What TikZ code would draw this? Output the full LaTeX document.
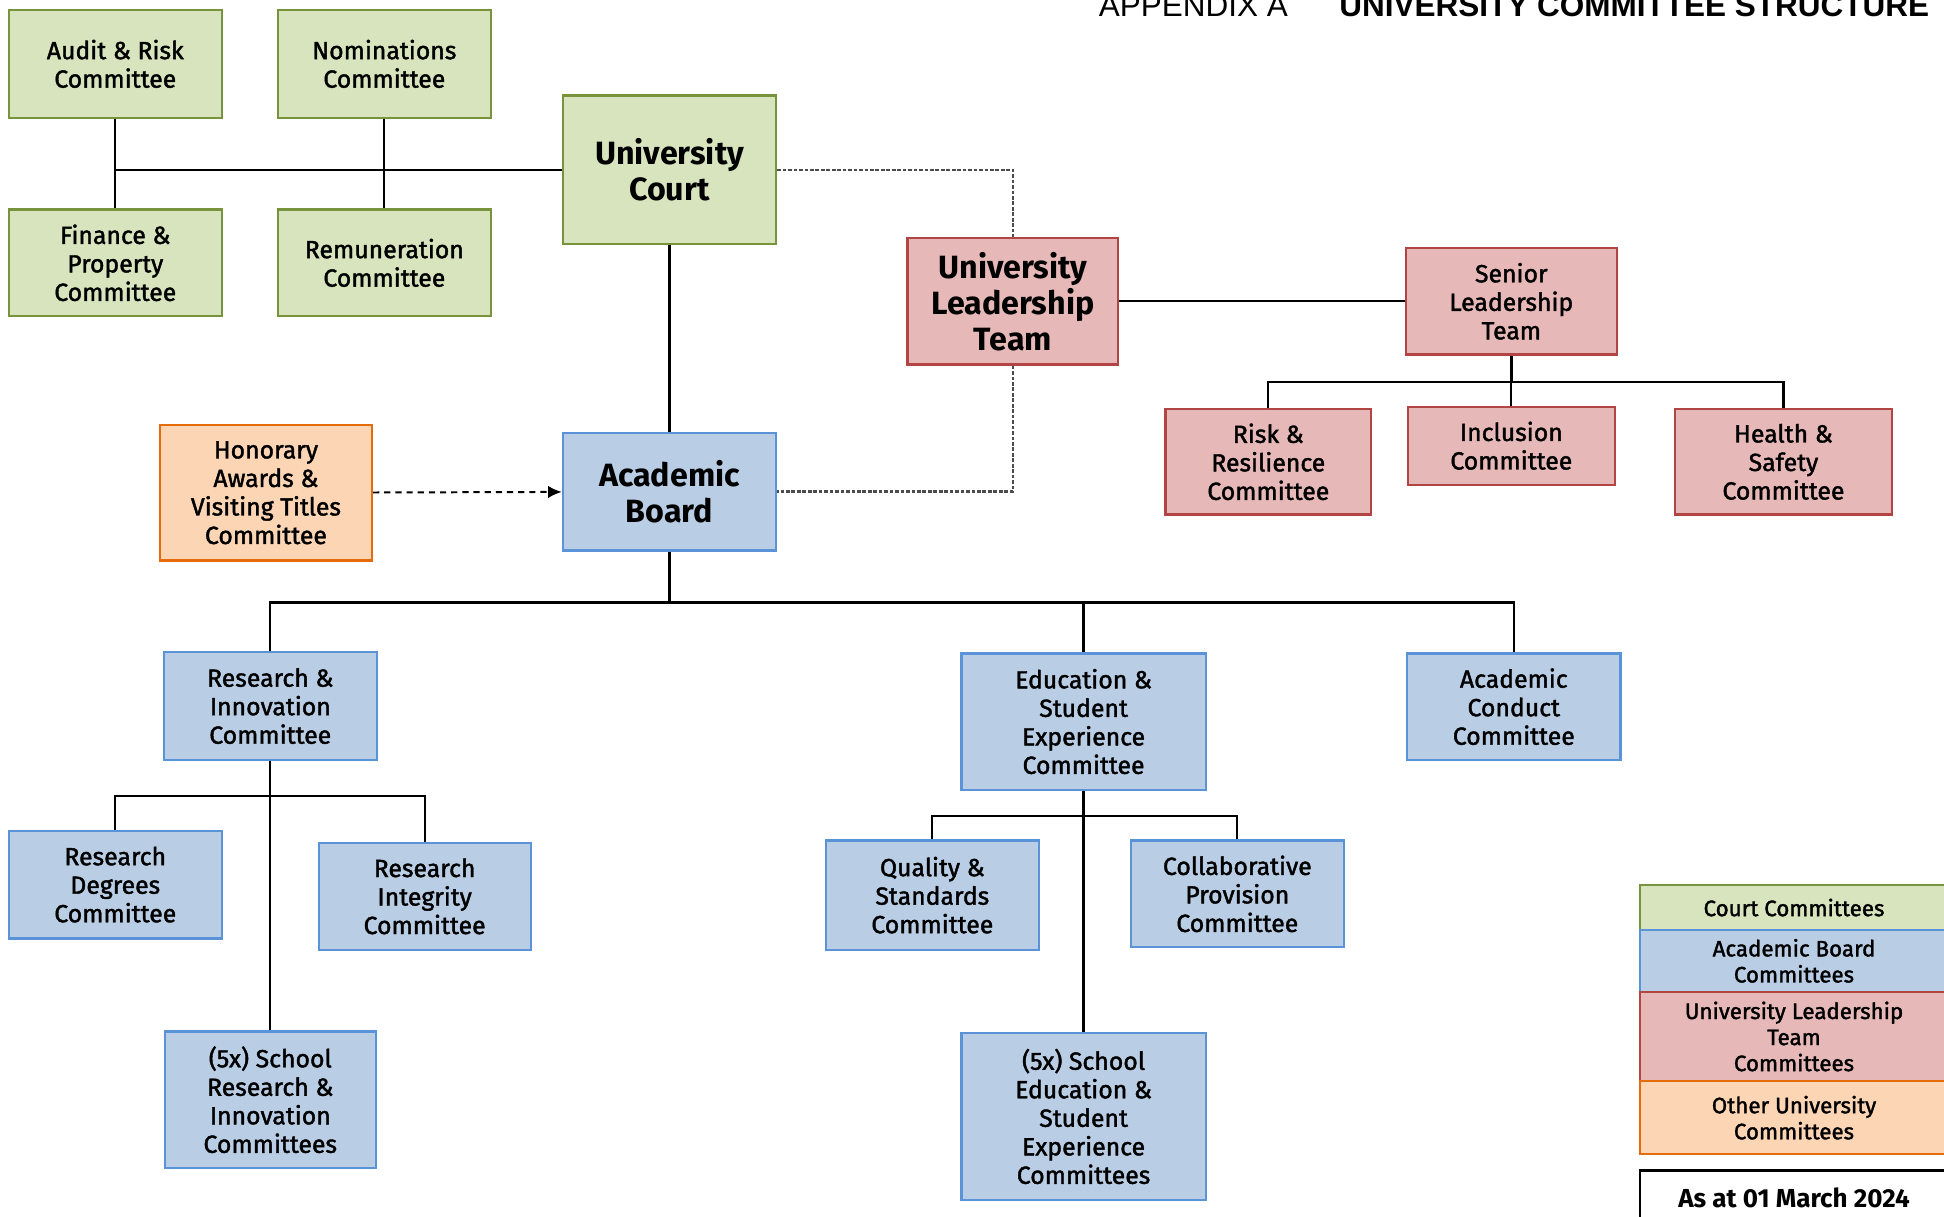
\documentclass[tikz,border=0pt]{standalone}
\usepackage{fontspec}
\setmainfont{Fira Sans}
\newfontfamily\titlefont{Liberation Sans}
\newfontfamily\medfont{Fira Sans}[FakeBold=1.6]
\usetikzlibrary{arrows.meta}
\definecolor{gfill}{HTML}{D7E4BD}
\definecolor{gdraw}{HTML}{77933C}
\definecolor{bfill}{HTML}{B9CDE5}
\definecolor{bdraw}{HTML}{5B93D8}
\definecolor{rfill}{HTML}{E6B9B8}
\definecolor{rdraw}{HTML}{B14543}
\definecolor{ofill}{HTML}{FCD5B5}
\definecolor{odraw}{HTML}{E46C0A}
\tikzset{
  box/.style={rectangle, line width=0.9pt, inner sep=0pt, align=center,
    font=\medfont\fontsize{10}{11.5}\selectfont},
  bigbox/.style={box, font=\bfseries\fontsize{13}{14.5}\selectfont},
  gbox/.style={box, fill=gfill, draw=gdraw},
  bbox/.style={box, fill=bfill, draw=bdraw},
  rbox/.style={box, fill=rfill, draw=rdraw},
  obox/.style={box, fill=ofill, draw=odraw},
  wh/.style 2 args={minimum width=#1*0.5pt, minimum height=#2*0.5pt},
  conn/.style={line width=0.9pt, black},
  dotline/.style={line width=1pt, black!70, dash pattern=on 1.5pt off 0.7pt},
  legend/.style={rectangle, line width=0.9pt, inner sep=0pt, align=center,
    minimum width=124pt, font=\medfont\fontsize{9}{10.5}\selectfont}
}
\begin{document}
\begin{tikzpicture}[x=0.5pt,y=-0.5pt]
\clip (0,0) rectangle (1568,981);
\useasboundingbox (0,0) rectangle (1568,981);
\fill[white] (0,0) rectangle (1568,981);

% title
\node[anchor=base west, inner sep=0pt, font=\titlefont\fontsize{12.7}{14}\selectfont] (apx) at (886,13) {APPENDIX A};
\node[anchor=base west, inner sep=0pt, font=\titlefont\bfseries\fontsize{12.7}{14}\selectfont] (ttl) at (1080,13) {UNIVERSITY COMMITTEE STRUCTURE};

% court committees
\node[gbox, wh={172}{87}] (audit) at (93,51.5) {Audit \& Risk\\Committee};
\node[gbox, wh={172}{87}] (nom) at (310,51.5) {Nominations\\Committee};
\node[gbox, wh={172}{86}] (fin) at (93,212) {Finance \&\\Property\\Committee};
\node[gbox, wh={172}{86}] (rem) at (310,212) {Remuneration\\Committee};
\node[gbox, bigbox, fill=gfill, draw=gdraw, wh={172}{120}] (court) at (540,137) {University\\Court};

% leadership
\node[rbox, bigbox, fill=rfill, draw=rdraw, wh={170}{102}] (ult) at (817,243) {University\\Leadership\\Team};
\node[rbox, wh={170}{86}] (slt) at (1219,243) {Senior\\Leadership\\Team};
\node[rbox, wh={166}{85}] (risk) at (1023,372.5) {Risk \&\\Resilience\\Committee};
\node[rbox, wh={167}{63}] (incl) at (1219,359.5) {Inclusion\\Committee};
\node[rbox, wh={175}{85}] (hs) at (1438.5,372.5) {Health \&\\Safety\\Committee};

% academic board
\node[bbox, bigbox, fill=bfill, draw=bdraw, wh={172}{95}] (ab) at (540,396.5) {Academic\\Board};
\node[obox, wh={171}{109}] (hon) at (214.5,397.5) {Honorary\\Awards \&\\Visiting Titles\\Committee};

\node[bbox, wh={172}{87}] (ri) at (218,569.5) {Research \&\\Innovation\\Committee};
\node[bbox, wh={197}{110}] (ese) at (874,582) {Education \&\\Student\\Experience\\Committee};
\node[bbox, wh={172}{86}] (ac) at (1221,570) {Academic\\Conduct\\Committee};

\node[bbox, wh={172}{87}] (rd) at (93,713.5) {Research\\Degrees\\Committee};
\node[bbox, wh={171}{86}] (rint) at (342.5,723) {Research\\Integrity\\Committee};
\node[bbox, wh={170}{110}] (sri) at (218,887) {(5x) School\\Research \&\\Innovation\\Committees};

\node[bbox, wh={172}{88}] (qs) at (752,722) {Quality \&\\Standards\\Committee};
\node[bbox, wh={172}{86}] (cp) at (998,721) {Collaborative\\Provision\\Committee};
\node[bbox, wh={197}{135}] (sese) at (874,900.5) {(5x) School\\Education \&\\Student\\Experience\\Committees};

% bus coordinates
\coordinate (courtbus) at (93,137);
\coordinate (sltbus) at (1219,308);
\coordinate (abbus) at (540,486);
\coordinate (ribus) at (218,642);
\coordinate (esebus) at (874,658);

% connectors
\draw[conn] (audit) -- (fin);
\draw[conn] (nom) -- (rem);
\draw[conn] (court.west) -- (courtbus);
\draw[conn] (court) -- (ab);
\draw[dotline] (court.east) -| (ult.north);
\draw[dotline] (ult.south) |- (ab.east);
\draw[conn] (ult) -- (slt);
\draw[conn, line width=1.4pt] (slt.south) -- (sltbus);
\draw[conn] (sltbus) -- (incl.north);
\draw[conn] (risk.north) |- (sltbus) -| (hs.north);
\draw[line width=0.8pt, dash pattern=on 2.5pt off 2pt, -{Latex[length=5.5pt,width=5pt]}] (hon) -- (ab);

\draw[conn] (ab.south) -- (abbus);
\draw[conn] (ri.north) |- (abbus) -| (ac.north);
\draw[conn] (ese.north) -- (ese.north |- abbus);

\draw[conn] (ri) -- (sri);
\draw[conn] (rd.north) |- (ribus) -| (rint.north);

\draw[conn] (ese) -- (sese);
\draw[conn] (qs.north) |- (esebus) -| (cp.north);

% legend
\node[legend, fill=gfill, draw=gdraw, minimum height=18pt] (lg) at (1447,732) {Court Committees};
\node[legend, fill=bfill, draw=bdraw, minimum height=25pt] (lb) at (1447,775) {Academic Board\\Committees};
\node[legend, fill=rfill, draw=rdraw, minimum height=36pt] (lr) at (1447,836) {University Leadership\\Team\\Committees};
\node[legend, fill=ofill, draw=odraw, minimum height=29.5pt] (lo) at (1447,901.5) {Other University\\Committees};
\node[legend, draw=black, fill=white, minimum height=22pt, font=\bfseries\fontsize{10.5}{12}\selectfont] (asat) at (1447,966) {As at 01 March 2024};
\end{tikzpicture}
\end{document}
